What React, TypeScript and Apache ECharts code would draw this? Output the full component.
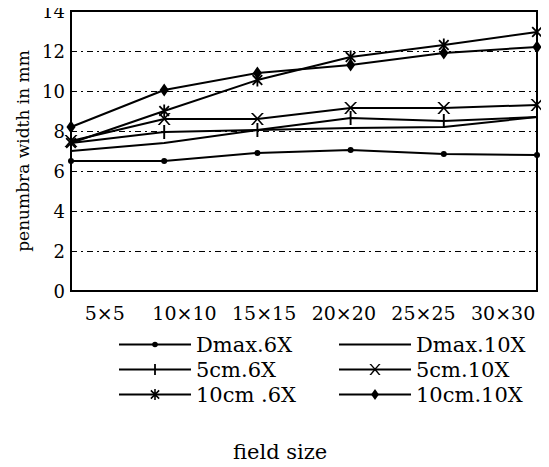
import React, { useEffect, useRef } from "react";
import * as echarts from "echarts";

const categories = ["5×5", "10×10", "15×15", "20×20", "25×25", "30×30"];
const dmax6X = [6.5, 6.5, 6.9, 7.05, 6.85, 6.8];
const dmax10X = [7.0, 7.4, 8.05, 8.15, 8.2, 8.7];
const cm5_6X = [7.4, 7.95, 8.05, 8.65, 8.5, 8.7];
const cm5_10X = [7.5, 8.6, 8.6, 9.15, 9.15, 9.3];
const cm10_6X = [7.4, 9.0, 10.55, 11.7, 12.3, 12.95];
const cm10_10X = [8.2, 10.05, 10.9, 11.3, 11.9, 12.2];
const yTicks = [0, 2, 4, 6, 8, 10, 12, 14];

const SERIF = "'DejaVu Serif', 'Liberation Serif', serif";

// symbols: each path has explicit bounding corners (M points) so it stretches predictably
const DOT = "path://M0,0M10,10M5,2.5A2.5,2.5,0,1,1,5,7.5A2.5,2.5,0,1,1,5,2.5Z";
const TICK = "path://M0,0M10,12M4.2,0L5.8,0L5.8,12L4.2,12Z";
const XMARK = "path://M0,0L1.6,0L5,3.8L8.4,0L10,0L5.8,4.8L10,10L8.4,10L5,5.9L1.6,10L0,10L4.2,4.8Z";
const STAR =
  "path://M0,0M10,10M4.3,0L5.7,0L5.7,10L4.3,10Z M0.8,1.8L1.8,0.8L9.2,8.2L8.2,9.2Z M8.2,0.8L9.2,1.8L1.8,9.2L0.8,8.2Z";
const DIAMOND = "path://M0,0M10,12M5,0L8.5,6L5,12L1.5,6Z";

export default function App() {
  const ref = useRef<HTMLDivElement>(null);
  useEffect(() => {
    if (!ref.current) return;
    const chart = echarts.init(ref.current, null, { renderer: "svg" });
    const lineStyle = { color: "#000", width: 2 };
    const mk = (name: string, data: number[], symbol: string, size: any) => ({
      name,
      type: "line",
      xAxisIndex: 0,
      yAxisIndex: 0,
      data,
      symbol,
      symbolSize: size,
      symbolKeepAspect: false,
      showSymbol: symbol !== "none",
      lineStyle,
      itemStyle: { color: "#000", borderWidth: 0 },
    });
    const legendBase = {
      orient: "vertical",
      top: 329,
      itemWidth: 72,
      itemHeight: 14,
      itemGap: 4,
      textStyle: { fontFamily: SERIF, fontSize: 21, color: "#000" },
    };
    chart.setOption({
      animation: false,
      backgroundColor: "#fff",
      textStyle: { fontFamily: SERIF, color: "#000" },
      title: {
        text: "field size",
        left: 228,
        top: 436,
        textStyle: { fontFamily: SERIF, fontWeight: "normal", fontSize: 21, color: "#000" },
      },
      grid: [
        { left: 71, right: 12, top: 11, bottom: 176, show: true, borderColor: "#000", borderWidth: 2 },
        { left: 65, right: 6, top: 11, bottom: 176 },
      ],
      xAxis: [
        {
          type: "category",
          gridIndex: 0,
          data: categories,
          boundaryGap: false,
          axisLine: { lineStyle: { color: "#000", width: 2 } },
          axisTick: { show: false },
          axisLabel: { show: false },
          splitLine: { show: false },
        },
        {
          type: "category",
          gridIndex: 1,
          data: categories,
          boundaryGap: true,
          axisLine: { show: false },
          axisTick: { show: false },
          axisLabel: { color: "#000", fontFamily: SERIF, fontSize: 19, margin: 12, interval: 0 },
        },
      ],
      yAxis: [
        {
          type: "value",
          gridIndex: 0,
          min: yTicks[0],
          max: yTicks[yTicks.length - 1],
          interval: 2,
          name: "penumbra width in mm",
          nameLocation: "middle",
          nameRotate: 90,
          nameGap: 40,
          nameTextStyle: { fontFamily: SERIF, fontSize: 17, color: "#000" },
          axisLine: { show: true, lineStyle: { color: "#000", width: 2 } },
          axisTick: { show: false },
          axisLabel: { color: "#000", fontFamily: SERIF, fontSize: 18, margin: 6 },
          splitLine: { show: true, lineStyle: { color: "#000", width: 1.2, type: [6, 4, 2, 4] } },
        },
        { type: "value", gridIndex: 1, show: false, min: 0, max: 14 },
      ],
      legend: [
        { ...legendBase, left: 113, data: ["Dmax.6X", "5cm.6X", "10cm .6X"] },
        {
          ...legendBase,
          left: 333,
          data: [{ name: "Dmax.10X", itemStyle: { opacity: 0 } }, "5cm.10X", "10cm.10X"],
        },
      ],
      series: [
        mk("Dmax.6X", dmax6X, DOT, 12),
        mk("Dmax.10X", dmax10X, "none", 0),
        mk("5cm.6X", cm5_6X, TICK, [12, 14]),
        mk("5cm.10X", cm5_10X, XMARK, [13, 12]),
        mk("10cm .6X", cm10_6X, STAR, 13),
        mk("10cm.10X", cm10_10X, DIAMOND, [13, 13]),
      ],
    });
    return () => chart.dispose();
  }, []);
  return <div ref={ref} style={{ width: 549, height: 467, margin: -8 }} />;
}
